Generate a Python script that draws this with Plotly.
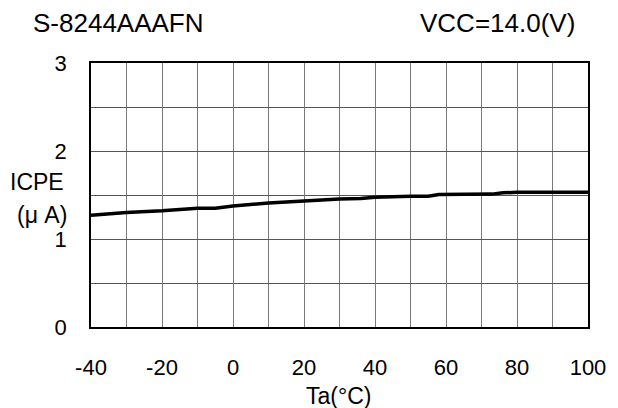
import plotly.graph_objects as go

temps = [-40, -30, -20, -10, -5, 0, 10, 20, 30, 36, 40, 50, 55, 58, 60, 70, 73, 76, 80, 90, 100]
icpe = [1.27, 1.30, 1.32, 1.35, 1.35, 1.375, 1.41, 1.435, 1.455, 1.46, 1.475, 1.485, 1.485,
        1.505, 1.505, 1.51, 1.51, 1.525, 1.53, 1.53, 1.53]
x_ticks = [-40, -20, 0, 20, 40, 60, 80, 100]
y_ticks = [0, 1, 2, 3]

FONT = "Liberation Sans, Arial, sans-serif"
W, H = 618, 408
L, T = 91, 63
R, B = 618 - 597, 408 - 327
pw, ph = W - L - R, H - T - B

def px(x):
    return (x - L) / pw

def py(y):
    return (H - B - y) / ph

fig = go.Figure()
fig.add_trace(go.Scatter(x=temps, y=icpe, mode="lines",
                         line=dict(color="black", width=3.5), showlegend=False,
                         hoverinfo="skip"))

fig.update_layout(
    width=W, height=H,
    margin=dict(l=L, r=R, t=T, b=B, pad=0),
    paper_bgcolor="white", plot_bgcolor="white",
    font=dict(family=FONT, size=22, color="black"),
    xaxis=dict(range=[-40, 100], tickvals=x_ticks, ticktext=[str(v) for v in x_ticks],
               showgrid=True, gridcolor="#7a7a7a", gridwidth=1,
               minor=dict(dtick=10, tick0=0, showgrid=True, gridcolor="#7a7a7a", gridwidth=1),
               showline=True, linecolor="black", linewidth=1.5, mirror=True,
               zeroline=False, ticks="", ticklabelstandoff=20,
               tickfont=dict(size=22)),
    yaxis=dict(range=[0, 3], tickvals=y_ticks, ticktext=[str(v) for v in y_ticks],
               showgrid=True, gridcolor="#555555", gridwidth=1,
               minor=dict(dtick=0.5, tick0=0, showgrid=True, gridcolor="#555555", gridwidth=1),
               showline=True, linecolor="black", linewidth=1.5, mirror=True,
               zeroline=False, ticks="", ticklabelstandoff=18,
               tickfont=dict(size=22)),
)

ann = [
    dict(text="S-8244AAAFN", x=px(30), y=py(22.7), xanchor="left", yanchor="middle", size=26),
    dict(text="VCC=14.0(V)", x=px(586), y=py(22.5), xanchor="right", yanchor="middle", size=26),
    dict(text="ICPE", x=px(36.5), y=py(182), xanchor="center", yanchor="middle", size=23),
    dict(text="(μ A)", x=px(41.5), y=py(215), xanchor="center", yanchor="middle", size=23),
    dict(text="Ta(°C)", x=px(343), y=py(396), xanchor="center", yanchor="middle", size=23),
]
for a in ann:
    fig.add_annotation(text=a["text"], x=a["x"], y=a["y"], xref="paper", yref="paper",
                       xanchor=a["xanchor"], yanchor=a["yanchor"], showarrow=False,
                       font=dict(family=FONT, size=a["size"], color="black"))

fig.write_html("out.html",
               config={"displayModeBar": False},
               post_script="document.body.style.margin='0';document.body.style.overflow='hidden';")
